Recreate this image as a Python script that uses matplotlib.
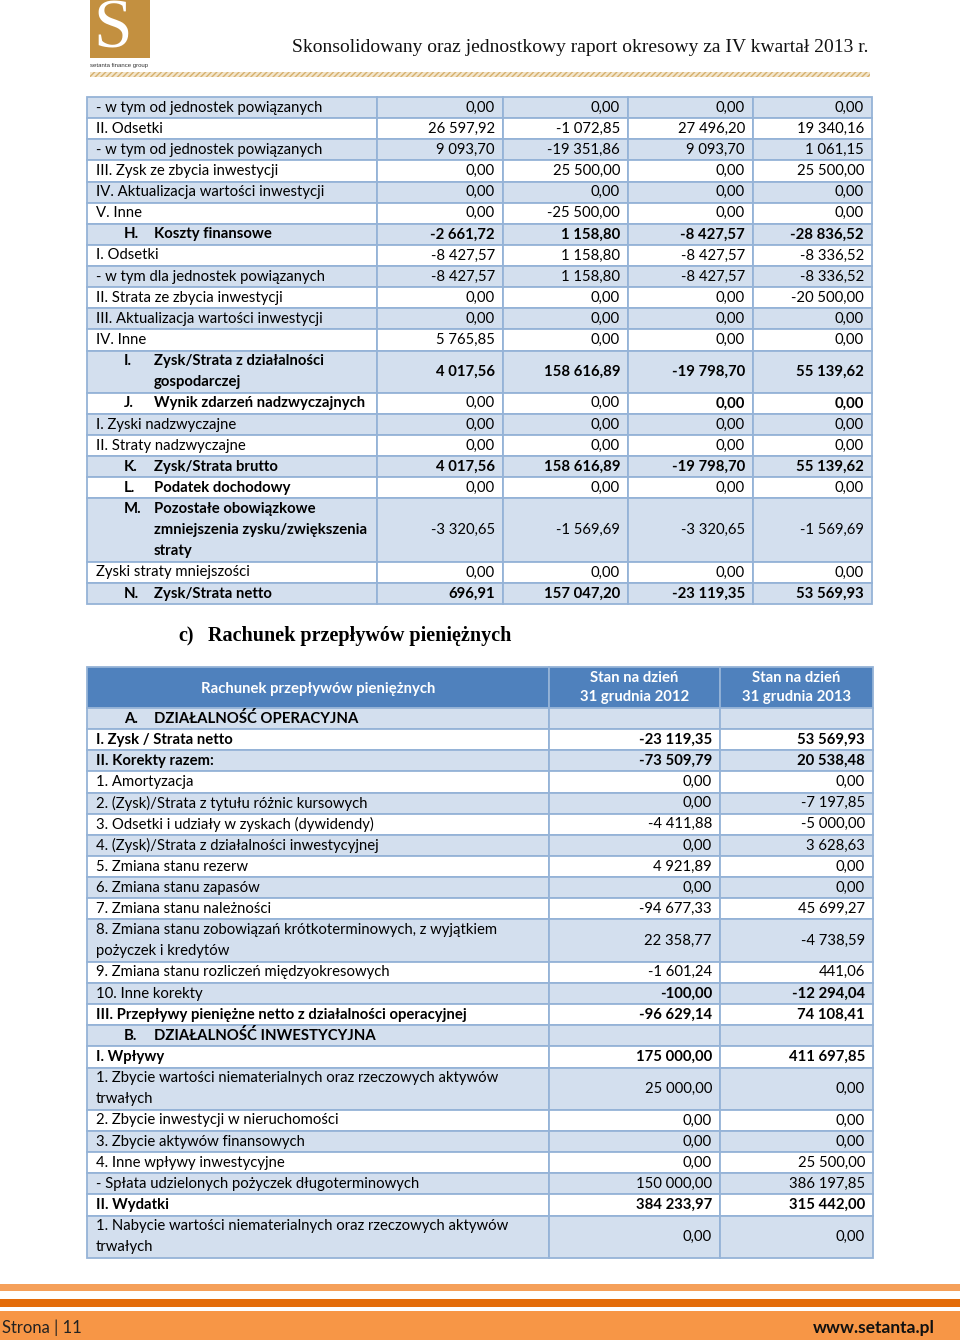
import matplotlib.pyplot as plt
from matplotlib.patches import Rectangle

# ---- data: top table (rachunek zysków i strat, continued) ----
top_labels = [
    "- w tym od jednostek powiązanych",
    "II. Odsetki",
    "- w tym od jednostek powiązanych",
    "III. Zysk ze zbycia inwestycji",
    "IV. Aktualizacja wartości inwestycji",
    "V. Inne",
    "H.\tKoszty finansowe",
    "I. Odsetki",
    "- w tym dla jednostek powiązanych",
    "II. Strata ze zbycia inwestycji",
    "III. Aktualizacja wartości inwestycji",
    "IV. Inne",
    "I.\tZysk/Strata z działalności\ngospodarczej",
    "J.\tWynik zdarzeń nadzwyczajnych",
    "I. Zyski nadzwyczajne",
    "II. Straty nadzwyczajne",
    "K.\tZysk/Strata brutto",
    "L.\tPodatek dochodowy",
    "M.\tPozostałe obowiązkowe\nzmniejszenia zysku/zwiększenia\nstraty",
    "Zyski straty mniejszości",
    "N.\tZysk/Strata netto",
]
top_col1 = [0.00, 26597.92, 9093.70, 0.00, 0.00, 0.00, -2661.72, -8427.57, -8427.57,
            0.00, 0.00, 5765.85, 4017.56, 0.00, 0.00, 0.00, 4017.56, 0.00, -3320.65,
            0.00, 696.91]
top_col2 = [0.00, -1072.85, -19351.86, 25500.00, 0.00, -25500.00, 1158.80, 1158.80,
            1158.80, 0.00, 0.00, 0.00, 158616.89, 0.00, 0.00, 0.00, 158616.89, 0.00,
            -1569.69, 0.00, 157047.20]
top_col3 = [0.00, 27496.20, 9093.70, 0.00, 0.00, 0.00, -8427.57, -8427.57, -8427.57,
            0.00, 0.00, 0.00, -19798.70, 0.00, 0.00, 0.00, -19798.70, 0.00, -3320.65,
            0.00, -23119.35]
top_col4 = [0.00, 19340.16, 1061.15, 25500.00, 0.00, 0.00, -28836.52, -8336.52,
            -8336.52, -20500.00, 0.00, 0.00, 55139.62, 0.00, 0.00, 0.00, 55139.62, 0.00,
            -1569.69, 0.00, 53569.93]

# ---- data: cash flow table ----
cf_header = "Rachunek przepływów pieniężnych"
cf_periods = ["Stan na dzień\n31 grudnia 2012", "Stan na dzień\n31 grudnia 2013"]
cf_labels = [
    "A.\tDZIAŁALNOŚĆ OPERACYJNA",
    "I. Zysk / Strata netto",
    "II. Korekty razem:",
    "1. Amortyzacja",
    "2. (Zysk)/Strata z tytułu różnic kursowych",
    "3. Odsetki i udziały w zyskach (dywidendy)",
    "4. (Zysk)/Strata z działalności inwestycyjnej",
    "5. Zmiana stanu rezerw",
    "6. Zmiana stanu zapasów",
    "7. Zmiana stanu należności",
    "8. Zmiana stanu zobowiązań krótkoterminowych, z wyjątkiem\npożyczek i kredytów",
    "9. Zmiana stanu rozliczeń międzyokresowych",
    "10. Inne korekty",
    "III. Przepływy pieniężne netto z działalności operacyjnej",
    "B.\tDZIAŁALNOŚĆ INWESTYCYJNA",
    "I. Wpływy",
    "1. Zbycie wartości niematerialnych oraz rzeczowych aktywów\ntrwałych",
    "2. Zbycie inwestycji w nieruchomości",
    "3. Zbycie aktywów finansowych",
    "4. Inne wpływy inwestycyjne",
    "- Spłata udzielonych pożyczek długoterminowych",
    "II. Wydatki",
    "1. Nabycie wartości niematerialnych oraz rzeczowych aktywów\ntrwałych",
]
cf_2012 = [None, -23119.35, -73509.79, 0.00, 0.00, -4411.88, 0.00, 4921.89, 0.00,
           -94677.33, 22358.77, -1601.24, -100.00, -96629.14, None, 175000.00,
           25000.00, 0.00, 0.00, 0.00, 150000.00, 384233.97, 0.00]
cf_2013 = [None, 53569.93, 20538.48, 0.00, -7197.85, -5000.00, 3628.63, 0.00, 0.00,
           45699.27, -4738.59, 441.06, -12294.04, 74108.41, None, 411697.85,
           0.00, 0.00, 0.00, 25500.00, 386197.85, 315442.00, 0.00]

# styling of rows (which cells are bold)
top_bold_label = {6, 12, 13, 16, 17, 18, 20}
top_bold_vals = {6: [1, 1, 1, 1], 12: [1, 1, 1, 1], 13: [0, 0, 1, 1],
                 16: [1, 1, 1, 1], 20: [1, 1, 1, 1]}
cf_bold_label = {0, 1, 2, 13, 14, 15, 21}
cf_bold_vals = {1, 2, 12, 13, 15, 21}

BLUE_LIGHT = "#D3DFEE"
BORDER = "#95B3D7"
HEAD = "#4F81BD"
FONT = "Lato"
FS = 10.7


def fmt(v):
    if v is None:
        return ""
    s = f"{abs(v):,.2f}".replace(",", " ").replace(".", ",")
    return ("-" if v < 0 else "") + s


def draw_label(ax, x, ytop, unit, text, bold):
    w = "bold" if bold else "normal"
    if "\t" in text:
        pre, rest = text.split("\t")
        ax.text(x + 37, ytop + unit / 2, pre, ha="left", va="center",
                fontsize=FS, fontweight=w, family=FONT)
        for k, line in enumerate(rest.split("\n")):
            ax.text(x + 67, ytop + unit * (k + 0.5), line, ha="left", va="center",
                    fontsize=FS, fontweight=w, family=FONT)
    else:
        for k, line in enumerate(text.split("\n")):
            ax.text(x + 9, ytop + unit * (k + 0.5), line, ha="left", va="center",
                    fontsize=FS, fontweight=w, family=FONT)


def draw_table(ax, edges, ytop, unit, labels, cols, bold_label, bold_vals_fn):
    y = ytop
    for i, lab in enumerate(labels):
        n = lab.count("\n") + 1
        h = unit * n
        fc = BLUE_LIGHT if i % 2 == 0 else "white"
        for j in range(len(edges) - 1):
            ax.add_patch(Rectangle((edges[j], y), edges[j + 1] - edges[j], h,
                                   facecolor=fc, edgecolor=BORDER, lw=1.3))
        draw_label(ax, edges[0], y, unit, lab, i in bold_label)
        for j, col in enumerate(cols):
            b = bold_vals_fn(i, j)
            ax.text(edges[j + 2] - 8, y + h / 2, fmt(col[i]), ha="right", va="center",
                    fontsize=FS, fontweight="bold" if b else "normal", family=FONT)
        y += h
    return y


fig = plt.figure(figsize=(9.6, 13.4), dpi=100)
ax = fig.add_axes([0, 0, 1, 1])
ax.set_xlim(0, 960)
ax.set_ylim(1340, 0)
ax.axis("off")

# ---- page header ----
ax.add_patch(Rectangle((90, 0), 60, 58, facecolor="#C39040", edgecolor="none"))
ax.text(113, 31, "S", ha="center", va="center", fontsize=50, color="white",
        family="Liberation Serif")
ax.text(90, 66, "setanta finance group", ha="left", va="center", fontsize=4.3,
        family="Liberation Sans", color="#333333")
ax.add_patch(Rectangle((90, 72), 780, 5, facecolor="#F3E6CC", edgecolor="#D6B06E",
                       hatch="//////", lw=0))
ax.text(868, 48, "Skonsolidowany oraz jednostkowy raport okresowy za IV kwartał 2013 r.",
        ha="right", va="center", fontsize=14, family="Liberation Serif", color="#111111")

# ---- top table ----
top_edges = [87, 377, 503, 628, 753, 872]
draw_table(ax, top_edges, 97, 21.13, top_labels,
           [top_col1, top_col2, top_col3, top_col4], top_bold_label,
           lambda i, j: top_bold_vals.get(i, [0, 0, 0, 0])[j])

# ---- section heading ----
ax.text(178, 636, "c)", ha="left", va="center", fontsize=14.5, fontweight="bold",
        family="Liberation Serif")
ax.text(208, 636, "Rachunek przepływów pieniężnych", ha="left", va="center",
        fontsize=14.5, fontweight="bold", family="Liberation Serif")

# ---- cash flow table ----
cf_edges = [87, 549, 720, 873]
hy0, hy1 = 667, 708
for j in range(len(cf_edges) - 1):
    ax.add_patch(Rectangle((cf_edges[j], hy0), cf_edges[j + 1] - cf_edges[j], hy1 - hy0,
                           facecolor=HEAD, edgecolor=BORDER, lw=1.3))
ax.text((cf_edges[0] + cf_edges[1]) / 2, (hy0 + hy1) / 2 + 1, cf_header, ha="center",
        va="center", fontsize=FS, color="white", fontweight="bold", family=FONT)
for j, p in enumerate(cf_periods):
    ax.text((cf_edges[j + 1] + cf_edges[j + 2]) / 2, (hy0 + hy1) / 2, p, ha="center",
            va="center", fontsize=FS, color="white", fontweight="bold", family=FONT,
            linespacing=1.45)
draw_table(ax, cf_edges, hy1, 21.15, cf_labels, [cf_2012, cf_2013], cf_bold_label,
           lambda i, j: i in cf_bold_vals)

# ---- footer ----
ax.add_patch(Rectangle((0, 1284), 960, 7, facecolor="#F5A05A", edgecolor="none"))
ax.add_patch(Rectangle((0, 1299), 960, 8, facecolor="#E36C0A", edgecolor="none"))
ax.add_patch(Rectangle((0, 1311), 960, 29, facecolor="#F79646", edgecolor="none"))
ax.text(2, 1328, "Strona | 11", ha="left", va="center", fontsize=12, family=FONT,
        color="#222222")
ax.text(935, 1328, "www.setanta.pl", ha="right", va="center", fontsize=12.5,
        fontweight="bold", family=FONT, color="#111111")

fig.savefig("out.png", dpi=100)
